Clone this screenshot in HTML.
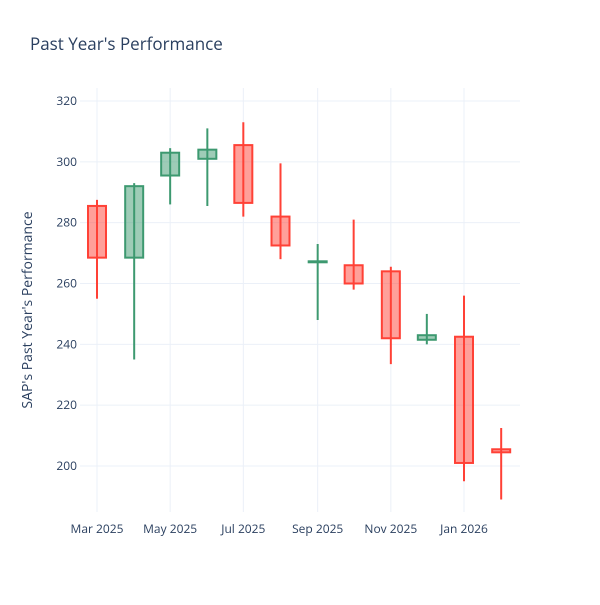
<!DOCTYPE html>
<html><head><meta charset="utf-8"><style>
body{margin:0;background:#fff;font-family:"Liberation Sans","DejaVu Sans",sans-serif}
text{font-family:"Open Sans","DejaVu Sans","Liberation Sans",sans-serif}
</style></head><body>
<svg id="chart" width="600" height="600" xmlns="http://www.w3.org/2000/svg">
<rect width="600" height="600" fill="#fff"/>
<text x="30" y="50" font-size="17" fill="#2a3f5f">Past Year's Performance</text>
<text transform="translate(32,310) rotate(-90)" text-anchor="middle" font-size="14" fill="#2a3f5f">SAP's Past Year's Performance</text>
<g id="grid"></g><g id="candles"></g><g id="ticks"></g>
</svg>
<script>
const dates=["2025-03-01","2025-04-01","2025-05-01","2025-06-01","2025-07-01","2025-08-01","2025-09-01","2025-10-01","2025-11-01","2025-12-01","2026-01-01","2026-02-01"];
const opens=[285.5,268.5,295.5,301,305.5,282,267,266,264,241.5,242.5,205.5];
const highs=[287.5,293,304.5,311,313,299.5,273,281,265.5,250,256,212.5];
const lows=[255,235,286,285.5,282,268,248,258,233.5,240,195,189];
const closes=[268.5,292,303,304,286.5,272.5,267.3,260,242,243,201,204.5];
const yTicks=[200,220,240,260,280,300,320];
const xTickDates=["2025-03-01","2025-05-01","2025-07-01","2025-09-01","2025-11-01","2026-01-01"];
const xTickLabels=["Mar 2025","May 2025","Jul 2025","Sep 2025","Nov 2025","Jan 2026"];
const NS="http://www.w3.org/2000/svg";
const t0=Date.parse("2025-03-01"),t1=Date.parse("2026-01-01");
function X(d){return 97+(Date.parse(d)-t0)/(t1-t0)*367;}
function Y(v){return 466-(v-200)*(365/120);}
function mk(tag,attrs,parent){const e=document.createElementNS(NS,tag);for(const k in attrs)e.setAttribute(k,attrs[k]);parent.appendChild(e);return e;}
const grid=document.getElementById('grid'),cg=document.getElementById('candles'),tg=document.getElementById('ticks');
yTicks.forEach(v=>{
 const l=mk('line',{x1:80,x2:520,y1:Y(v),y2:Y(v),stroke:'#ebf0f8','stroke-width':1},grid);
 
 
 const t=mk('text',{x:77,y:Y(v)+4,'text-anchor':'end','font-size':12,fill:'#2a3f5f'},tg);
 t.textContent=v;
 
 
});
xTickDates.forEach((d,i)=>{
 const l=mk('line',{x1:X(d),x2:X(d),y1:88,y2:512,stroke:'#ebf0f8','stroke-width':1},grid);
 
 
 const t=mk('text',{x:X(d),y:533,'text-anchor':'middle','font-size':12,fill:'#2a3f5f'},tg);
 t.textContent=xTickLabels[i];
 
 
});
dates.forEach((d,i)=>{
 const up=closes[i]>=opens[i];
 const st=up?'#3D9970':'#FF4136',fl=up?'rgba(61,153,112,0.5)':'rgba(255,65,54,0.5)';
 const x=X(d),w=18;
 const g=mk('g',{},cg);
 
 
 mk('line',{x1:x,x2:x,y1:Y(highs[i]),y2:Y(lows[i]),stroke:st,'stroke-width':2},g);
 const top=Y(Math.max(opens[i],closes[i])),bot=Y(Math.min(opens[i],closes[i]));
 mk('rect',{x:x-w/2,y:top,width:w,height:Math.max(bot-top,1),fill:fl,stroke:st,'stroke-width':2},g);
});
</script>
</body></html>
